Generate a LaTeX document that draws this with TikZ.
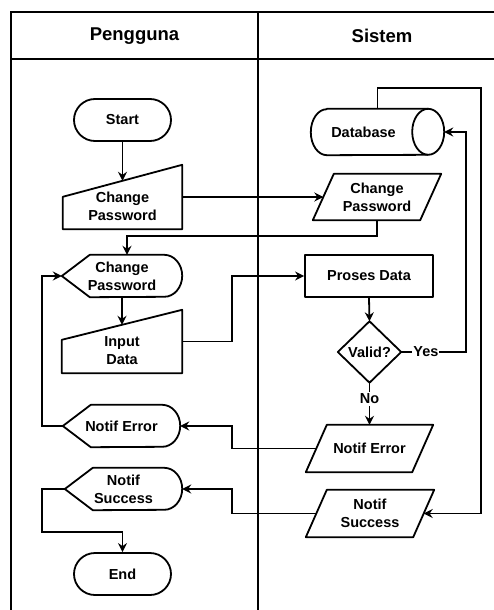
\documentclass[tikz,border=0pt]{standalone}
\usepackage{fontspec}
\setmainfont{Liberation Sans}
\usetikzlibrary{calc,arrows.meta}

% flowchart outline helpers (node = bounding box of the symbol)
\newcommand\fcManual[2]{% manual input: name, drop of the sloped top
  \draw[shapeline] (#1.south west) -- (#1.south east) -- (#1.north east)
    -- ($(#1.north west)+(0,#2)$) -- cycle;}
\newcommand\fcPara[2]{% data (parallelogram): name, half of the skew
  \draw[shapeline] ($(#1.south west)+(-#2,0)$) -- ($(#1.south east)+(-#2,0)$)
    -- ($(#1.north east)+(#2,0)$) -- ($(#1.north west)+(#2,0)$) -- cycle;}
\newcommand\fcDisplay[1]{% display symbol
  \draw[shapeline] (#1.west) -- ($(#1.north west)+(28,0)$) -- ($(#1.north east)+(-18,0)$)
    arc[start angle=90,end angle=-90,x radius=18pt,y radius=21pt]
    -- ($(#1.south west)+(28,0)$) -- cycle;}
\newcommand\fcDiamond[1]{%
  \draw[shapeline] (#1.north) -- (#1.east) -- (#1.south) -- (#1.west) -- cycle;}
\newcommand\fcStore[1]{% horizontal cylinder
  \draw[shapeline] ($(#1.north west)+(16,0)$) -- ($(#1.north east)+(-16,0)$)
    arc[start angle=90,end angle=-90,x radius=16pt,y radius=23pt]
    -- ($(#1.south west)+(16,0)$)
    arc[start angle=270,end angle=90,x radius=16pt,y radius=23pt] -- cycle;
  \draw[shapeline] ($(#1.north east)+(-16,0)$)
    arc[start angle=90,end angle=270,x radius=16pt,y radius=23pt];}

\tikzset{
  every node/.style={font=\bfseries\fontsize{14.5}{18}\selectfont, align=center, inner sep=0pt},
  shapeline/.style={line width=1.8pt, line join=round},
  conn/.style={line width=1.8pt},
  arr/.style={conn, -{Stealth[length=9pt,width=9pt,inset=3pt]}},
  laneline/.style={line width=1.8pt},
  lanehead/.style={font=\bfseries\fontsize{18.5}{22}\selectfont},
  term/.style={draw, shapeline, rounded corners=21pt, minimum width=97pt, minimum height=42pt},
  procbox/.style={draw, shapeline, minimum width=128pt, minimum height=42pt},
  symbox/.style n args={2}{minimum width=#1, minimum height=#2},
  lbl/.style={fill=white, inner xsep=1pt, inner ysep=2pt}
}

\begin{document}
\begin{tikzpicture}[x=1pt, y=-1pt]
\useasboundingbox (0,0) rectangle (494,610);

% swimlanes
\draw[laneline] (494,12) -- (11,12) -- (11,610);
\draw[laneline] (11,59) -- (494,59);
\draw[laneline] (258,12) -- (258,610);
\node[lanehead] (hUser) at (134.5,36) {Pengguna};
\node[lanehead] (hSys) at (382,36) {Sistem};

\coordinate (busx) at (232,0);
\coordinate (loopx) at (42,0);
\coordinate (jend) at (0,532);

% Pengguna lane
\node[term] (start) at (122.5,120) {Start};
\node[symbox={119pt}{64pt}] (cp1) at (122.5,197) {};
\fcManual{cp1}{32}
\node (cp1t) at (122.5,206) {Change\\Password};

\node[symbox={120pt}{42pt}] (cpd) at (122,276) {Change\\Password};
\fcDisplay{cpd}

\node[symbox={120pt}{63pt}] (inp) at (122,341.5) {};
\fcManual{inp}{30}
\node (inpt) at (122,350.5) {Input\\Data};

\node[symbox={117pt}{42pt}] (ne1) at (121.5,426) {Notif Error};
\fcDisplay{ne1}

\node[symbox={117pt}{42pt}] (ns1) at (123.5,489) {Notif\\Success};
\fcDisplay{ns1}

\node[term] (stop) at (122.5,574) {End};

% Sistem lane
\node[symbox={133pt}{46pt}] (db) at (377.5,132) {};
\fcStore{db}
\node (dbt) at (363.5,132) {Database};

\node[symbox={107pt}{46pt}] (cp2) at (377,197) {Change\\Password};
\fcPara{cp2}{10.5}

\node[procbox] (pd) at (369,276) {Proses Data};

\node[symbox={63pt}{61pt}] (valid) at (369.5,352) {Valid?};
\fcDiamond{valid}

\node[symbox={106pt}{47pt}] (ne2) at (369.5,448.5) {Notif Error};
\fcPara{ne2}{10.5}

\node[symbox={107pt}{47pt}] (ns2) at (370,513.5) {Notif\\Success};
\fcPara{ns2}{10.5}

% connectors
\draw[arr] (start.south) -- ($(cp1.north)+(0,16)$);
\draw[arr] (cp1.east) -- (cp2.west);
\draw[arr] (cp2.south) -- ++(0,16) -| ($(cpd.north)+(5,0)$);
\draw[arr] (cpd.south) -- ($(inp.north)+(0,15)$);
\draw[arr] (inp.east) -- (inp.east -| busx) |- (pd.west);
\draw[arr] (pd.south) -- (valid.north);
\draw[arr] (valid.east) -- node[lbl, pos=0.38] (yes) {Yes} ++(65,0) |- (db.east);
\draw[arr] (db.north) -- ++(0,-21) -| ($(ns2.east)+(57.5,0)$) -- (ns2.east);
\draw[arr] (valid.south) -- node[lbl, pos=0.38] (no) {No} (ne2.north);
\draw[arr] (ne2.west) -- (ne2.west -| busx) |- (ne1.east);
\draw[arr] (ne1.west) -- (ne1.west -| loopx) |- (cpd.west);
\draw[arr] (ns2.west) -- (ns2.west -| busx) |- (ns1.east);
\draw[arr] (ns1.west) -- (ns1.west -| loopx) -- (loopx |- jend) -| (stop.north);
\end{tikzpicture}
\end{document}
